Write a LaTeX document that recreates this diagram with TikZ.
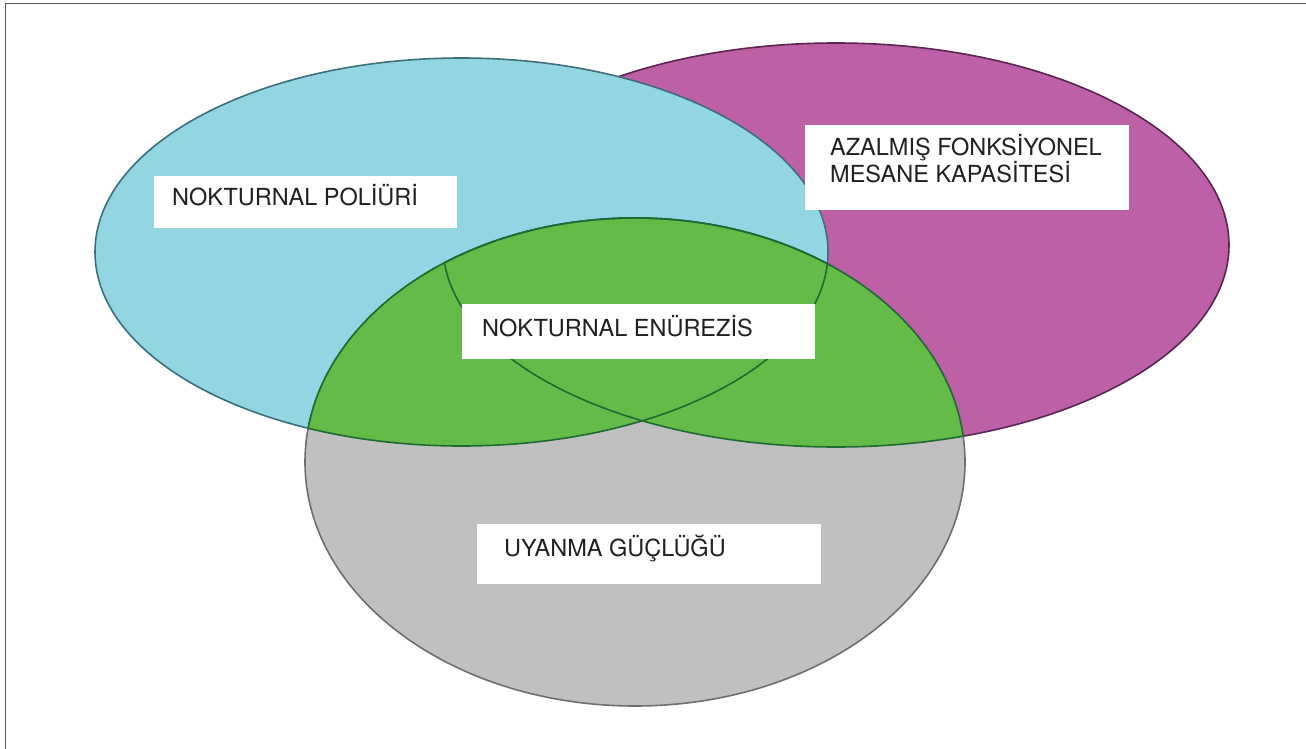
\documentclass[tikz,border=0pt]{standalone}
\usepackage{fontspec}
\setmainfont{TeX Gyre Heros}
\usetikzlibrary{calc}
\definecolor{cyanfill}{HTML}{93D6E3}
\definecolor{cyanline}{HTML}{3E6E78}
\definecolor{magfill}{HTML}{BD60A6}
\definecolor{magline}{HTML}{5B2452}
\definecolor{greenfill}{HTML}{64BB47}
\definecolor{greenline}{HTML}{1E6B33}
\definecolor{grayfill}{HTML}{C0C0C0}
\definecolor{grayline}{HTML}{6E6E6E}
\definecolor{txt}{HTML}{231F20}
\definecolor{frame}{HTML}{555555}
\tikzset{
  box/.style={fill=white, draw=none, inner sep=0pt, anchor=north west},
  lbl/.style={text=txt, inner sep=0pt, anchor=base west, font=\fontsize{23.5}{27}\selectfont, align=left},
  outl/.style={line width=1.6pt},
}
\begin{document}
\begin{tikzpicture}[x=1pt,y=-1pt]
\useasboundingbox (0,0) rectangle (1306,749);
% frame
\coordinate (fl) at (5.5,749);
\coordinate (fc) at (5.5,3.5);
\coordinate (fr) at (1306,3.5);
\draw[frame, line width=1.5pt] (fl) -- (fc) -- (fr);
% sets
\def\magE{(836,245) ellipse [x radius=393pt, y radius=202pt]}
\def\cyaE{(461.5,252) ellipse [x radius=366.5pt, y radius=194pt]}
\def\grayE{(635,462) ellipse [x radius=330pt, y radius=244pt]}
\fill[magfill] \magE;
\draw[magline, outl] \magE;
\fill[cyanfill] \cyaE;
\draw[cyanline, outl] \cyaE;
\fill[grayfill] \grayE;
\draw[grayline, outl] \grayE;
% overlap (green)
\begin{scope}
  \clip \grayE;
  \fill[greenfill] \cyaE;
  \fill[greenfill] \magE;
  \draw[greenline, outl] \cyaE;
  \draw[greenline, outl] \magE;
\end{scope}
\begin{scope}
  \clip \cyaE;
  \draw[greenline, outl] \grayE;
\end{scope}
\begin{scope}
  \clip \magE;
  \draw[greenline, outl] \grayE;
\end{scope}
% labels
\node[box, minimum width=303pt, minimum height=52pt] (b1) at (154,176) {};
\node[lbl] (t1) at (172,205) {NOKTURNAL POLİÜRİ};
\node[box, minimum width=324pt, minimum height=85pt] (b2) at (805,125) {};
\node[lbl] (t2) at (830,182) {AZALMIŞ FONKSİYONEL\\MESANE KAPASİTESİ};
\node[box, minimum width=353pt, minimum height=55pt] (b3) at (462,304) {};
\node[lbl] (t3) at (482,336) {NOKTURNAL ENÜREZİS};
\node[box, minimum width=344pt, minimum height=60pt] (b4) at (477,524) {};
\node[lbl] (t4) at (504,556) {UYANMA GÜÇLÜĞÜ};
\end{tikzpicture}
\end{document}
